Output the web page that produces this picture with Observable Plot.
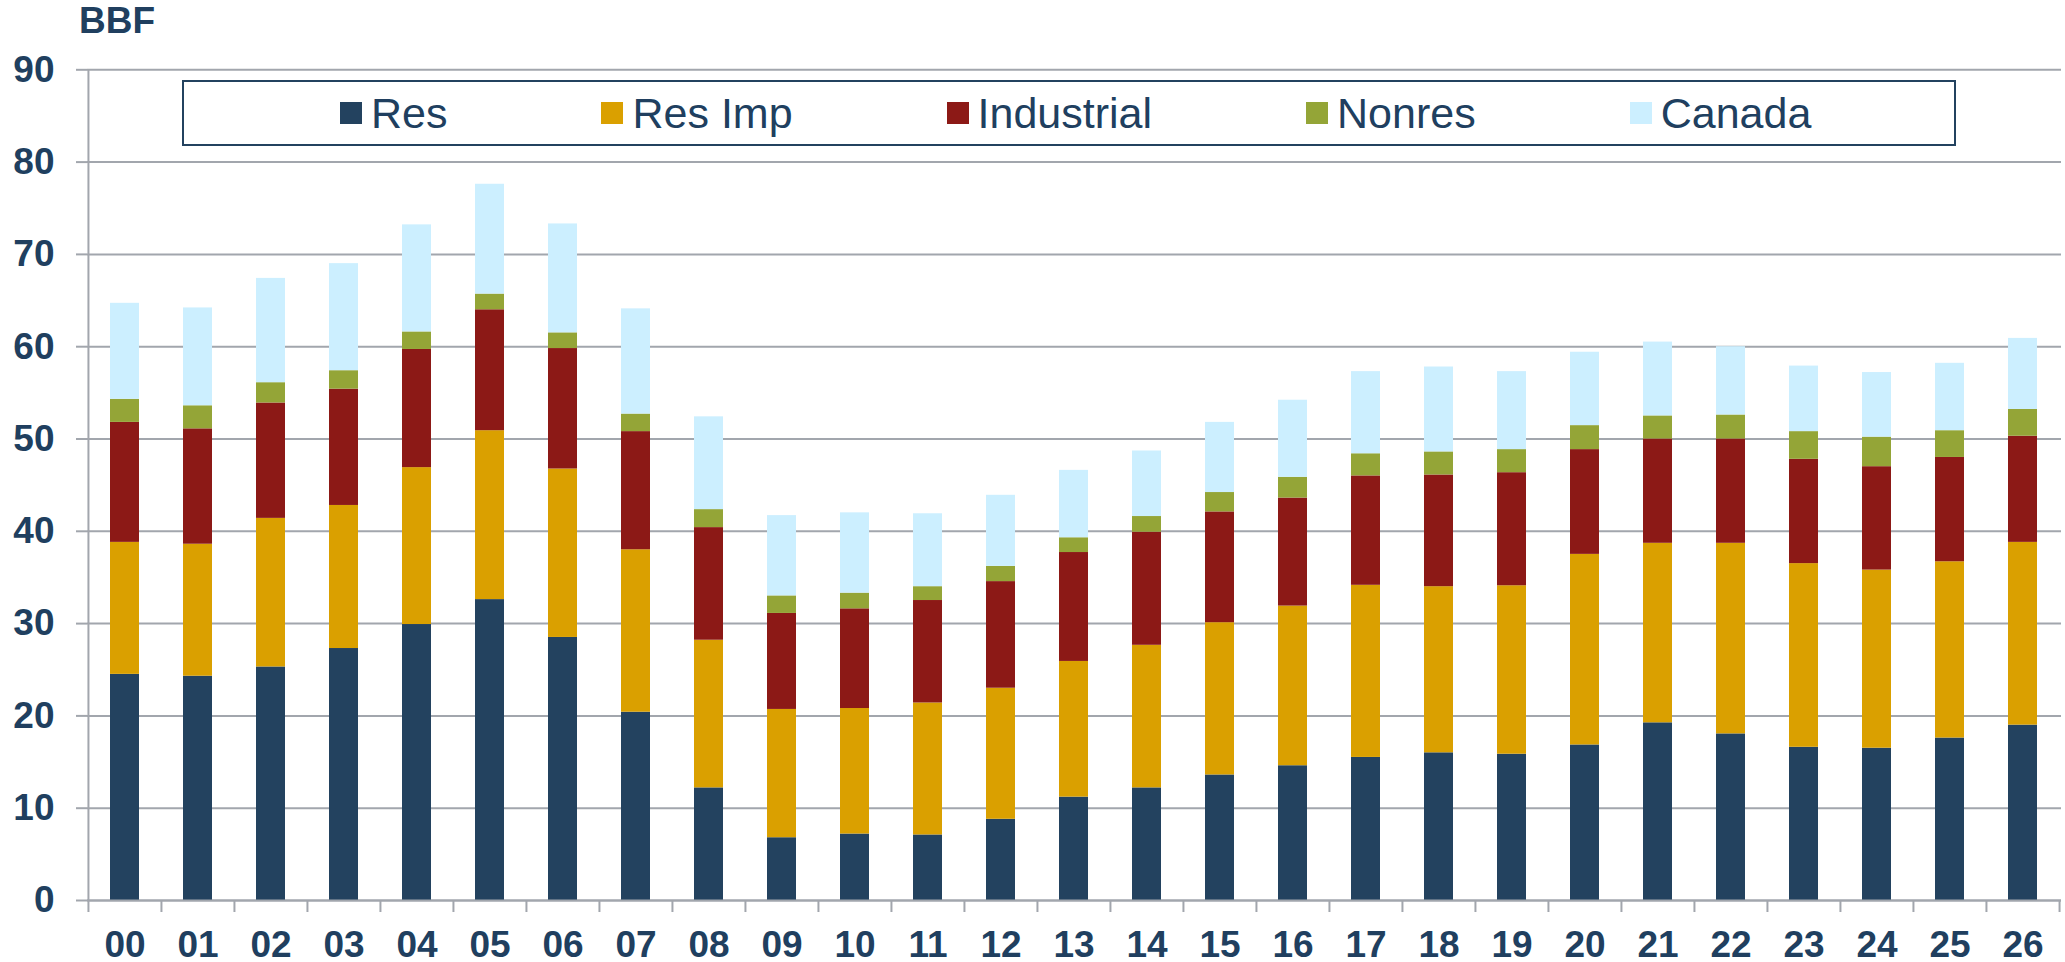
<!DOCTYPE html>
<html>
<head>
<meta charset="utf-8">
<script src="https://cdn.jsdelivr.net/npm/d3@7"></script>
<script src="https://cdn.jsdelivr.net/npm/@observablehq/plot@0.6"></script>
<style>
  body { margin: 0; background: #fff; }
  #wrap { position: relative; width: 2065px; height: 962px; font-family: "Liberation Sans", Arial, sans-serif; color: #203f5f; }
  #title { height: 40px; font-weight: bold; font-size: 37px; line-height: 40px; padding-left: 79px; box-sizing: border-box; padding-top: 1px; }
  #legend { position: absolute; left: 182px; top: 80px; width: 1774px; height: 66px; box-sizing: border-box;
            border: 2px solid #23425f; background: #fff; display: flex; align-items: center; padding-left: 156px; gap: 154px; }
  .item { display: flex; align-items: center; }
  .sw { width: 22px; height: 22px; margin-right: 9px; }
  .lbl { font-size: 43px; line-height: 1; color: #203f5f; }
  svg { display: block; }
</style>
</head>
<body>
<div id="wrap">
  <div id="title">BBF</div>
  <div id="chart"></div>
  <div id="legend"></div>
</div>
<script>
const years = ["00","01","02","03","04","05","06","07","08","09","10","11","12","13","14","15","16","17","18","19","20","21","22","23","24","25","26"];
const seriesNames = ["Res", "Res Imp", "Industrial", "Nonres", "Canada"];
const seriesColors = ["#23425f", "#daa000", "#8c1916", "#94a537", "#ccefff"];

const res        = [24.5,24.3,25.3,27.3,29.9,32.6,28.5,20.4,12.2,6.8,7.2,7.1,8.8,11.2,12.2,13.6,14.6,15.5,16.0,15.85,16.85,19.25,18.05,16.6,16.5,17.6,19.0];
const resImp     = [14.3,14.3,16.1,15.5,17.0,18.3,18.25,17.6,16.0,13.9,13.6,14.3,14.2,14.7,15.45,16.5,17.3,18.65,18.0,18.25,20.65,19.45,20.65,19.9,19.3,19.1,19.8];
const industrial = [13.0,12.5,12.5,12.6,12.8,13.1,13.05,12.8,12.2,10.4,10.8,11.1,11.55,11.8,12.25,12.0,11.7,11.85,12.1,12.25,11.35,11.3,11.3,11.3,11.2,11.3,11.5];
const nonres     = [2.5,2.5,2.2,2.0,1.9,1.7,1.7,1.9,1.95,1.9,1.7,1.5,1.65,1.6,1.7,2.1,2.25,2.4,2.5,2.5,2.6,2.5,2.6,3.0,3.2,2.9,2.9];
const canada     = [10.4,10.6,11.3,11.6,11.6,11.9,11.8,11.4,10.05,8.7,8.7,7.9,7.7,7.3,7.1,7.6,8.35,8.9,9.2,8.45,7.95,8.0,7.4,7.1,7.0,7.3,7.7];
const yTicks = [0,10,20,30,40,50,60,70,80,90];

const seriesValues = [res, resImp, industrial, nonres, canada];
const table = [];
seriesNames.forEach((s, i) => seriesValues[i].forEach((v, j) => table.push({year: years[j], series: s, value: v})));

const W = 2065, H = 922, ML = 87, MR = 4, MT = 29.3, MB = 62;
const step = (W - ML - MR) / years.length;
const gray = "#a2a6ad";
const ink = "#203f5f";

const chart = Plot.plot({
  width: W, height: H,
  marginLeft: ML, marginRight: MR, marginTop: MT, marginBottom: MB,
  style: {fontFamily: "Liberation Sans, Arial, sans-serif", fontSize: "37px", fontWeight: "bold", color: ink, background: "white", overflow: "visible"},
  x: {domain: years, paddingInner: 0.6, paddingOuter: 0.3, label: null},
  y: {domain: [0, 90], label: null},
  color: {domain: seriesNames, range: seriesColors},
  marks: [
    Plot.gridY(yTicks, {stroke: gray, strokeOpacity: 1, strokeWidth: 2}),
    Plot.axisY(yTicks, {tickSize: 11, tickPadding: 22, stroke: gray, strokeWidth: 2, fill: ink, label: null}),
    Plot.barY(table, {x: "year", y: "value", fill: "series"}),
    Plot.ruleY([0], {stroke: gray, strokeWidth: 2}),
    Plot.ruleX([years[0]], {dx: -step / 2, stroke: gray, strokeWidth: 2}),
    Plot.axisX({tickSize: 12, text: null, dx: -step / 2, stroke: gray, strokeWidth: 2, label: null}),
    Plot.axisX([years[years.length - 1]], {tickSize: 12, text: null, dx: step / 2, stroke: gray, strokeWidth: 2, label: null}),
    Plot.axisX({tickSize: 0, tickPadding: 30, fill: ink, label: null})
  ]
});
document.getElementById("chart").appendChild(chart);

const legend = document.getElementById("legend");
seriesNames.forEach((s, i) => {
  const item = document.createElement("div");
  item.className = "item";
  const sw = document.createElement("div");
  sw.className = "sw";
  sw.style.background = seriesColors[i];
  const lbl = document.createElement("span");
  lbl.className = "lbl";
  lbl.textContent = s;
  item.appendChild(sw);
  item.appendChild(lbl);
  legend.appendChild(item);
});
</script>
</body>
</html>
